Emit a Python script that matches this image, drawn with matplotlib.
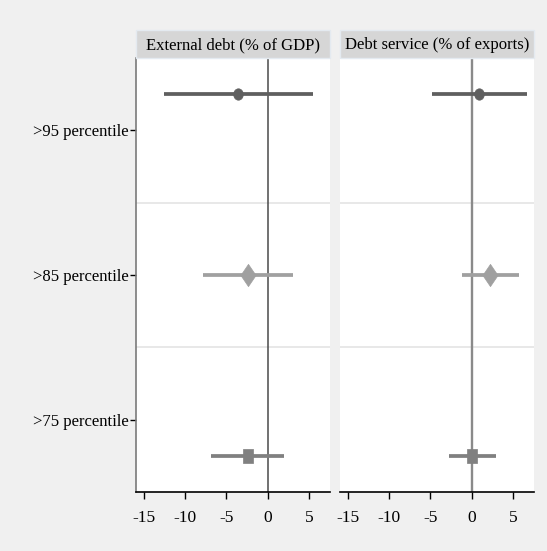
import matplotlib
matplotlib.use("Agg")
import matplotlib.pyplot as plt
from matplotlib.patches import Rectangle
from matplotlib.path import Path
from matplotlib.transforms import Affine2D

plt.rcParams['font.family'] = ['Liberation Serif', 'DejaVu Serif']

# Coefficient estimates with confidence bounds
panels = ["External debt (% of GDP)", "Debt service (% of exports)"]
groups = [">95 percentile", ">85 percentile", ">75 percentile"]

coef = [
    [-3.6, -2.4, -2.4],
    [0.9, 2.25, 0.05],
]
ci_low = [
    [-12.6, -7.8, -6.85],
    [-4.8, -1.15, -2.75],
]
ci_high = [
    [5.45, 3.1, 1.95],
    [6.65, 5.75, 2.9],
]

xticks = [-15, -10, -5, 0, 5]

# Slightly tall marker shapes
oval = Path.unit_circle().transformed(Affine2D().scale(0.85, 1.0))
tall_diamond = Path([(0, 1), (0.68, 0), (0, -1), (-0.68, 0), (0, 1)],
                    [Path.MOVETO, Path.LINETO, Path.LINETO, Path.LINETO, Path.CLOSEPOLY])
tall_square = Path([(-0.76, -1), (0.76, -1), (0.76, 1), (-0.76, 1), (-0.76, -1)],
                   [Path.MOVETO, Path.LINETO, Path.LINETO, Path.LINETO, Path.CLOSEPOLY])

series_colors = ["#5f5f5f", "#a0a0a0", "#808080"]
series_markers = [oval, tall_diamond, tall_square]
series_msize = [8.2, 16.0, 9.5]
series_offset = [-0.25, 0.0, 0.25]

fig = plt.figure(figsize=(5.47, 5.51), dpi=100)
fig.patch.set_facecolor("#f0f0f0")

W, H = 547, 551
panel_left = [136, 340]
panel_w = 194
top_px, bot_px = 58, 492
head_top = 30
fs = 12

zero_styles = [dict(color="#4a4a4a", lw=1.1), dict(color="#8a8a8a", lw=1.7)]

for p in range(2):
    ax = fig.add_axes([panel_left[p] / W, (H - bot_px) / H,
                       panel_w / W, (bot_px - top_px) / H])
    ax.set_facecolor("white")
    ax.set_xlim(-15.95, 7.55)
    ax.set_ylim(3.5, 0.5)

    for yb in [1.5, 2.5]:
        ax.axhline(yb, color="#e6e6e6", lw=1.3, zorder=1)
    ax.axvline(0, zorder=2, **zero_styles[p])

    for g in range(3):
        y = g + 1 + series_offset[g]
        ax.plot([ci_low[p][g], ci_high[p][g]], [y, y], color=series_colors[g],
                lw=2.7, solid_capstyle="butt", zorder=3)
        ax.plot([coef[p][g]], [y], marker=series_markers[g], color=series_colors[g],
                ms=series_msize[g], mec=series_colors[g], mew=0.5, zorder=4, ls="none")

    ax.set_xticks(xticks)
    ax.set_xticklabels([str(t) for t in xticks], fontsize=fs + 0.5)
    ax.tick_params(axis="x", direction="out", length=5, width=1, color="black", pad=8)

    for s in ["top", "right"]:
        ax.spines[s].set_visible(False)
    ax.spines["bottom"].set_color("black")
    ax.spines["bottom"].set_linewidth(1.2)

    if p == 0:
        ax.set_yticks([1, 2, 3])
        ax.set_yticklabels(groups, fontsize=fs)
        ax.spines["left"].set_color("#7a7a7a")
        ax.spines["left"].set_linewidth(1.2)
        ax.tick_params(axis="y", direction="out", length=4, width=1, color="black", pad=1)
    else:
        ax.set_yticks([])
        ax.spines["left"].set_visible(False)

    # Panel title strip
    fig.patches.append(Rectangle((panel_left[p] / W, (H - top_px) / H),
                                 panel_w / W, (top_px - head_top) / H,
                                 transform=fig.transFigure, facecolor="#d6d6d6",
                                 edgecolor="#e4eaf0", lw=1))
    fig.text((panel_left[p] + panel_w / 2) / W, (H - (top_px + head_top) / 2 - 1) / H,
             panels[p], ha="center", va="center", fontsize=fs)

fig.savefig("out.png", dpi=100, facecolor=fig.get_facecolor())
